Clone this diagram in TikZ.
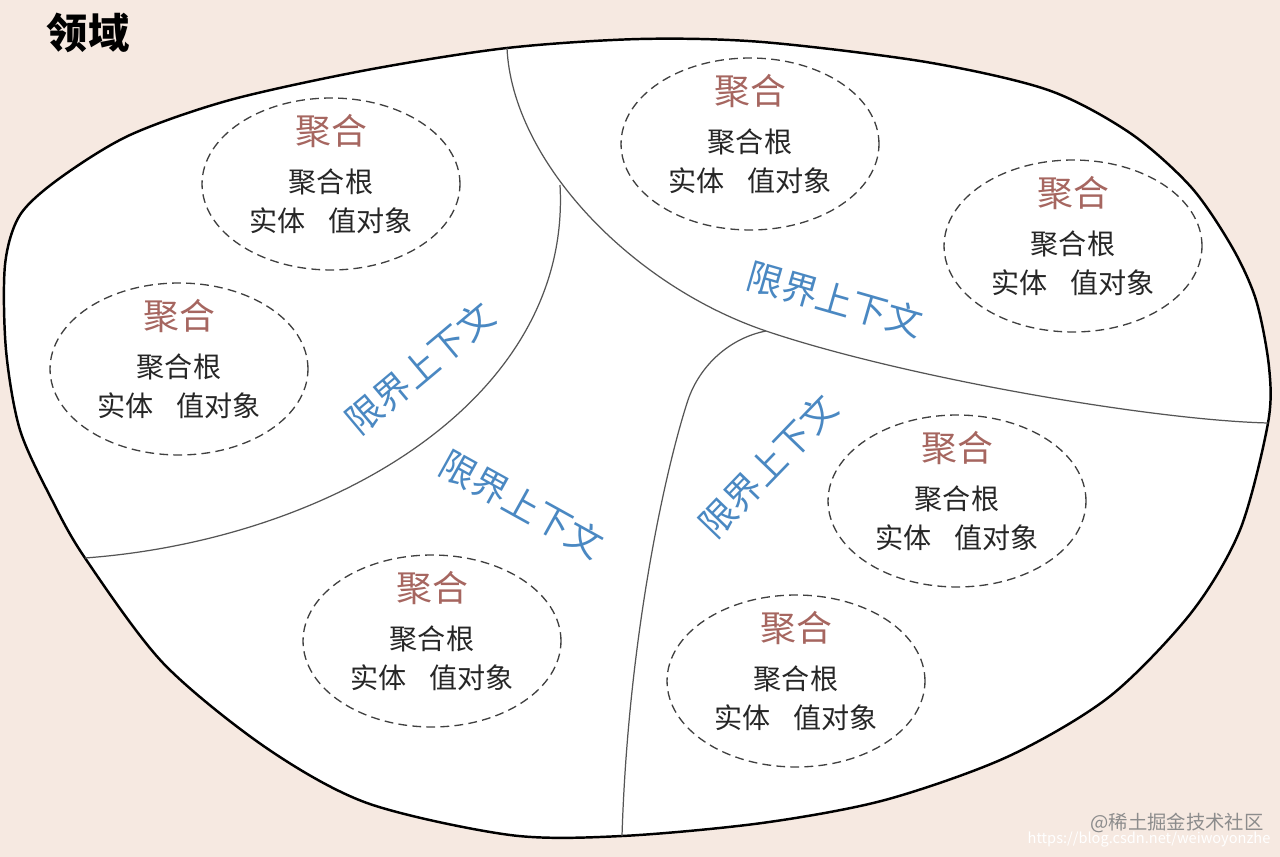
\documentclass[tikz,border=0pt]{standalone}
\usepackage{fontspec}
\setmainfont{Noto Sans CJK SC}
\usepackage{tikz}
\usetikzlibrary{shapes.geometric}

\definecolor{bgpeach}{RGB}{246,233,225}
\definecolor{aggred}{RGB}{166,102,96}
\definecolor{bcblue}{RGB}{74,136,194}
\definecolor{divgray}{RGB}{85,85,85}

\begin{document}
\begin{tikzpicture}
          [x=0.02cm, y=-0.02cm,
           aggbox/.style={draw=black!75, dash pattern=on 5pt off 3pt, line width=0.75pt,
                          ellipse, minimum width=5.16cm, minimum height=3.44cm, inner sep=0pt},
           agglbl/.style={align=center, yshift=0.2cm, text=black!85, inner sep=0pt,
                          font=\fontsize{16pt}{22pt}\selectfont},
           bclbl/.style={text=bcblue, font=\fontsize{20.5pt}{24pt}\selectfont},
           divline/.style={draw=divgray, line width=0.7pt}]
          \useasboundingbox (0,0) rectangle (1280,857);
          \fill[bgpeach] (0,0) rectangle (1280,857);

          \node (title) [font=\bfseries\fontsize{23.5pt}{26pt}\selectfont] at (88,33) {领域};

          % where the context lines meet the domain border
          \coordinate (ta) at (507,48);
          \coordinate (ra) at (1268,423);
          \coordinate (lb) at (85,558);
          \coordinate (bc) at (622,836);
          \coordinate (jab) at (560,185);
          \coordinate (jac) at (766,331);

          \draw[fill=white, line width=1.4pt] plot[smooth cycle] coordinates {
            (5,265) (20,215) (60,178) (130,135) (230,100) (367,70) (ta) (640,39)
            (762,42) (926,62) (1048,90) (1130,133) (1191,187) (1232,247) (1256,300)
            (1269,367) (ra) (1240,530) (1191,613) (1109,697) (1007,757) (885,800)
            (762,823) (bc) (510,835) (367,803) (265,747) (163,663) (lb) (52,500)
            (20,430) (6,350)};

          \draw[divline] (ta) .. controls (512,160) and (630,285) .. (jac)
            .. controls (902,377) and (1150,420) .. (ra);
          \draw[divline] (jab) .. controls (572,400) and (330,540) .. (lb);
          \draw[divline] (jac) .. controls (730,338) and (700,365) .. (688,400)
            .. controls (665,470) and (628,640) .. (bc);

          \node (e1) [aggbox] at (331,184) {};
          \node (e2) [aggbox] at (179,369) {};
          \node (e3) [aggbox] at (750,144) {};
          \node (e4) [aggbox] at (1073,246) {};
          \node (e5) [aggbox] at (957,501) {};
          \node (e6) [aggbox] at (796,681) {};
          \node (e7) [aggbox] at (432,641) {};

          \node (l1) [agglbl] at (e1) {{\fontsize{20.4pt}{24pt}\selectfont\color{aggred}聚合}\\[5.7pt]聚合根\\实体\hspace{0.8em}值对象};
          \node (l2) [agglbl] at (e2) {{\fontsize{20.4pt}{24pt}\selectfont\color{aggred}聚合}\\[5.7pt]聚合根\\实体\hspace{0.8em}值对象};
          \node (l3) [agglbl] at (e3) {{\fontsize{20.4pt}{24pt}\selectfont\color{aggred}聚合}\\[5.7pt]聚合根\\实体\hspace{0.8em}值对象};
          \node (l4) [agglbl] at (e4) {{\fontsize{20.4pt}{24pt}\selectfont\color{aggred}聚合}\\[5.7pt]聚合根\\实体\hspace{0.8em}值对象};
          \node (l5) [agglbl] at (e5) {{\fontsize{20.4pt}{24pt}\selectfont\color{aggred}聚合}\\[5.7pt]聚合根\\实体\hspace{0.8em}值对象};
          \node (l6) [agglbl] at (e6) {{\fontsize{20.4pt}{24pt}\selectfont\color{aggred}聚合}\\[5.7pt]聚合根\\实体\hspace{0.8em}值对象};
          \node (l7) [agglbl] at (e7) {{\fontsize{20.4pt}{24pt}\selectfont\color{aggred}聚合}\\[5.7pt]聚合根\\实体\hspace{0.8em}值对象};

          \node (bc1) [bclbl, rotate=40] at (420,368) {限界上下文};
          \node (bc2) [bclbl, rotate=-29] at (522,504) {限界上下文};
          \node (bc3) [bclbl, rotate=-16] at (835,299) {限界上下文};
          \node (bc4) [bclbl, rotate=46] at (768,466) {限界上下文};

          \node (wm) [text=black!45, font=\fontsize{11pt}{13pt}\selectfont] at (1177,823) {@稀土掘金技术社区};
          \node (url) [text=white, font=\fontsize{8.3pt}{10pt}\selectfont] at (1149,840) {https://blog.csdn.net/weiwoyonzhe};
        \end{tikzpicture}
\end{document}
